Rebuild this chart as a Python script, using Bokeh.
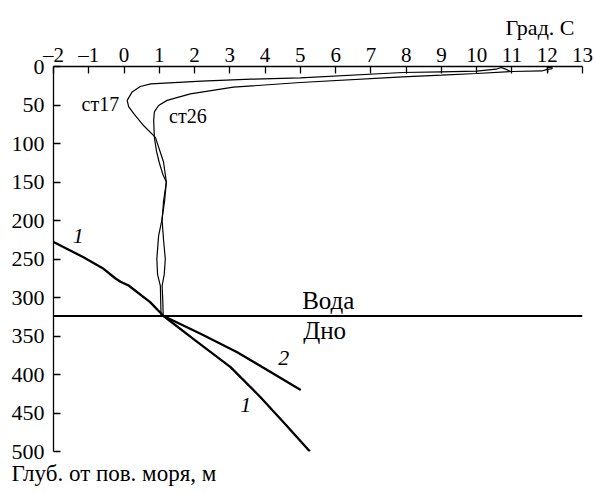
from bokeh.plotting import figure
from bokeh.models import FixedTicker, Span, Title, Range1d
from bokeh.core.properties import value
from bokeh.embed import file_html
from bokeh.resources import INLINE

FONT = "Liberation Serif"

# temperature axis ticks (Град. С)
x_ticks = list(range(-2, 14))
x_tick_labels = {-2: "\u20132", -1: "\u20131"}
# depth ticks (m)
y_ticks = list(range(0, 501, 50))

# station profiles: temperature (deg C) vs depth (m)
st17_t = [10.95, 10.8, 10.69, 10.55, 10.0, 9.0, 7.9, 5.0, 3.6, 2.2, 0.76, 0.46,
          0.23, 0.09, 0.13, 0.27, 0.56, 0.89, 1.12, 1.2, 1.15, 1.07, 0.98, 0.93,
          0.95, 1.03, 1.04, 1.05]
st17_d = [6.3, 3.0, 1.3, 3.5, 6.1, 6.9, 7.8, 14.7, 16.5, 19, 22.5, 26,
          33, 44, 52, 61, 77, 92, 124, 150, 175, 200, 220, 250,
          270, 285, 305, 324]

st26_t = [12.02, 12.0, 12.15, 12.12, 12.0, 11.85, 11.0, 10.0, 9.0, 7.9, 5.0, 3.1,
          1.88, 1.22, 0.98, 0.86, 0.84, 0.86, 0.92, 1.0, 1.1, 1.2, 1.12, 1.08,
          1.12, 1.17, 1.14, 1.08, 1.1, 1.11]
st26_d = [7.5, 1.0, 1.6, 3.0, 3.8, 5.8, 6.5, 9.1, 11.3, 13.4, 20.8, 26.9,
          35.5, 44, 50.6, 59, 70, 92, 110, 125, 140, 150, 175, 200,
          225, 250, 270, 285, 305, 324]

# curves 1 and 2
c1_t = [-2.0, -1.15, -0.58, -0.25, -0.1, 0.13, 0.74, 1.12, 2.0, 3.02, 3.87, 4.6, 5.27]
c1_d = [228, 247.7, 262.7, 275, 279.5, 284.4, 306, 324, 355, 390.5, 429.5, 466, 500]

c2_t = [1.12, 2.17, 3.21, 5.01]
c2_d = [324, 347, 371, 420]

# water / bottom boundary depth
water_depth = 324

# text labels
station_names = ["ст17", "ст26"]
station_x = [-0.67, 1.81]
station_y = [49, 64.5]

curve_names = ["1", "2", "1"]
curve_x = [-1.3, 4.53, 3.45]
curve_y = [219.5, 379, 440]

zone_names = ["Вода", "Дно"]
zone_x = [5.05, 5.08]
zone_y = [304, 343]

x_title = "Град. С"
y_title = "Глуб. от пов. моря, м"

p = figure(width=593, height=493, x_range=Range1d(-2, 13), y_range=Range1d(500, 0),
           x_axis_location="above", y_axis_location="left",
           output_backend="svg", toolbar_location=None, title=None,
           min_border_left=53, min_border_right=11, min_border_top=66,
           min_border_bottom=42)
p.outline_line_color = None
p.xgrid.visible = False
p.ygrid.visible = False
p.background_fill_color = "white"
p.border_fill_color = "white"

for ax in (p.xaxis[0], p.yaxis[0]):
    ax.major_tick_in = 7
    ax.major_tick_out = 0
    ax.minor_tick_in = 0
    ax.minor_tick_out = 0
    ax.axis_line_width = 1.3
    ax.major_tick_line_width = 1.3
    ax.axis_line_color = "black"
    ax.major_tick_line_color = "black"
    ax.major_label_text_font = FONT
    ax.major_label_text_color = "black"

p.xaxis[0].major_label_text_font_size = "21px"
p.yaxis[0].major_label_text_font_size = "22px"
p.xaxis[0].ticker = FixedTicker(ticks=x_ticks)
p.xaxis[0].major_label_overrides = x_tick_labels
p.xaxis[0].major_label_standoff = 0
p.yaxis[0].ticker = FixedTicker(ticks=y_ticks)
p.yaxis[0].major_label_standoff = 9

p.line(st17_t, st17_d, line_color="black", line_width=1.2)
p.line(st26_t, st26_d, line_color="black", line_width=1.2)
p.line(c1_t, c1_d, line_color="black", line_width=2.3)
p.line(c2_t, c2_d, line_color="black", line_width=2.3)

p.add_layout(Span(location=water_depth, dimension="width", line_color="black", line_width=2.2))

p.text(x=station_x, y=station_y, text=station_names, text_font=value(FONT),
       text_font_size="20px", text_align="center", text_baseline="middle", text_color="black")
p.text(x=curve_x, y=curve_y, text=curve_names, text_font=value(FONT),
       text_font_size="22px", text_font_style="italic", text_align="center",
       text_baseline="middle", text_color="black")
p.text(x=zone_x, y=zone_y, text=zone_names, text_font=value(FONT),
       text_font_size="25px", text_align="left", text_baseline="middle", text_color="black")

p.add_layout(Title(text=x_title, align="right", offset=8, text_font=FONT,
                   text_font_size="22px", text_font_style="normal", text_color="black",
                   standoff=0), "above")
p.add_layout(Title(text=y_title, align="left", offset=-42, text_font=FONT,
                   text_font_size="23px", text_font_style="normal", text_color="black",
                   standoff=14), "below")

open("out.html", "w").write(file_html(p, INLINE))
